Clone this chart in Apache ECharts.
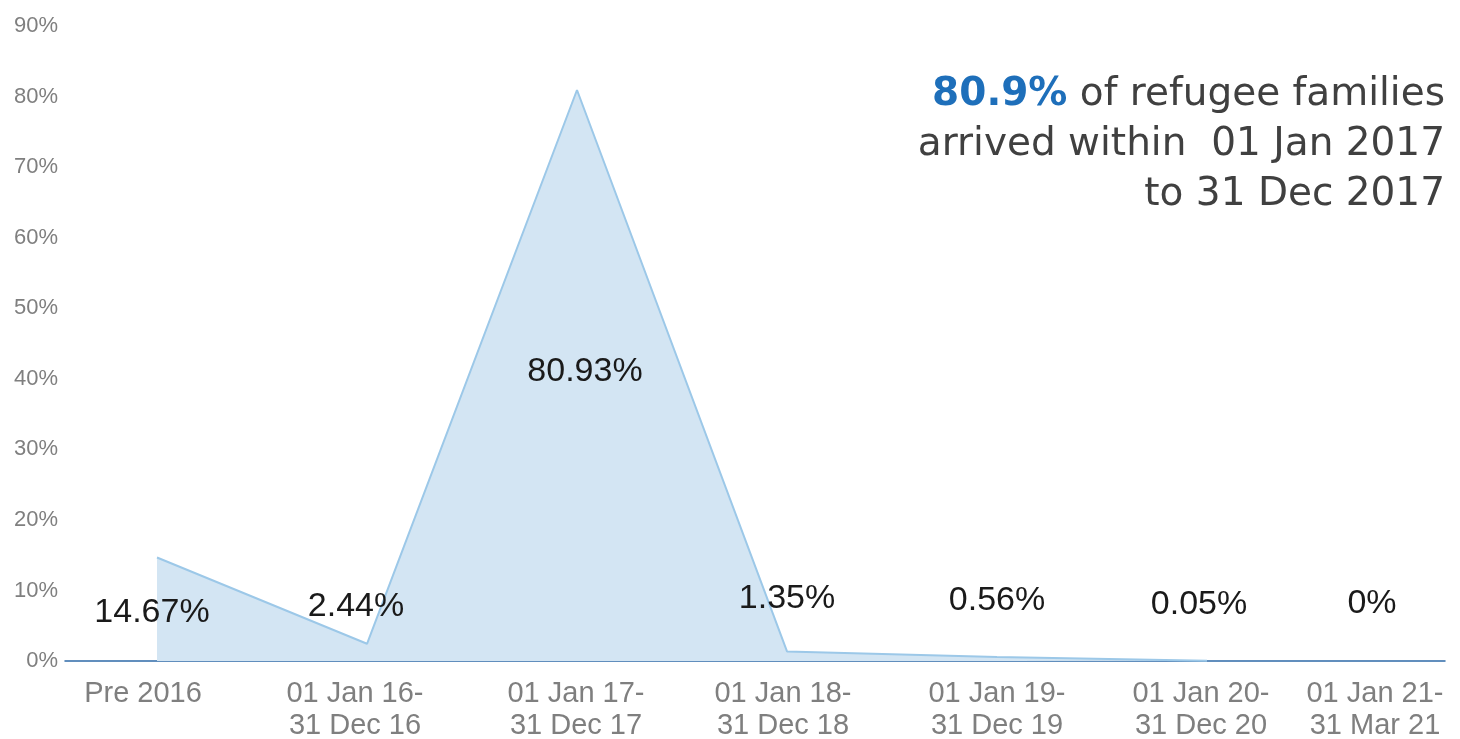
<!DOCTYPE html>
<html><head><meta charset="utf-8">
<script src="https://cdn.jsdelivr.net/npm/echarts@6/dist/echarts.min.js"></script>
<style>html,body{margin:0;padding:0;background:#fff}#c{width:1460px;height:739px}</style>
</head><body><div id="c"></div>
<script>
const categories = ['Pre 2016', '01 Jan 16-\n31 Dec 16', '01 Jan 17-\n31 Dec 17', '01 Jan 18-\n31 Dec 18', '01 Jan 19-\n31 Dec 19', '01 Jan 20-\n31 Dec 20', '01 Jan 21-\n31 Mar 21'];
const values = [14.67, 2.44, 80.93, 1.35, 0.56, 0.05, 0];
const plotted = [14.67, 2.44, 80.93, 1.35, 0.56, 0.05, null];
const yTicks = [0, 10, 20, 30, 40, 50, 60, 70, 80, 90];
const labelOffsets = [[-5, 55], [-11, -37], [8, 282], [0, -53], [0, -56], [-8, -56], [-45, -57]];
const tickShift = [14, 12, 1, 4, 0, 6, 42];

const chart = echarts.init(document.getElementById('c'));
const gridTop = 26, gridBottom = 78;
chart.setOption({
  animation: false,
  title: {
    left: 1445, top: 70, textAlign: 'right', padding: 0,
    text: '{b|80.9%}{t| of refugee families}\n{t|arrived within  01 Jan 2017}\n{t|to 31 Dec 2017}',
    textStyle: {
      align: 'right', fontWeight: 'normal',
      rich: {
        b: { fontFamily: 'DejaVu Sans', fontSize: 39, fontWeight: 'bold', color: '#1E6FBA', lineHeight: 50 },
        t: { fontFamily: 'DejaVu Sans', fontSize: 39, fontWeight: 'normal', color: '#404040', lineHeight: 50 }
      }
    }
  },
  grid: [
    { left: 157, right: 43, top: gridTop, bottom: gridBottom, outerBoundsMode: 'none', containLabel: false },
    { left: 65, right: 15, top: gridTop, bottom: gridBottom, outerBoundsMode: 'none', containLabel: false }
  ],
  xAxis: [
    { type: 'category', gridIndex: 0, boundaryGap: false,
      data: categories.map((c, i) => ({ value: c, textStyle: { padding: [0, tickShift[i] * 2, 0, 0] } })),
      axisLine: { show: false }, axisTick: { show: false },
      axisLabel: { fontFamily: 'Liberation Sans', fontSize: 29, color: '#7f7f7f', lineHeight: 32, margin: 17, interval: 0 } },
    { type: 'category', gridIndex: 1, data: categories, axisLabel: { show: false }, axisTick: { show: false },
      axisLine: { show: true, lineStyle: { color: '#2E6AA8', width: 1.5 } } }
  ],
  yAxis: [
    { type: 'value', gridIndex: 0, min: 0, max: 90, interval: 10, show: false, splitLine: { show: false } },
    { type: 'value', gridIndex: 1, min: 0, max: 90, interval: 10, splitLine: { show: false },
      axisLine: { show: false }, axisTick: { show: false },
      axisLabel: { fontFamily: 'Liberation Sans', fontSize: 22, color: '#7f7f7f', margin: 7, formatter: v => yTicks.includes(v) ? v + '%' : '' } }
  ],
  series: [
    { type: 'line', xAxisIndex: 0, yAxisIndex: 0, data: plotted, symbol: 'none',
      lineStyle: { color: '#9CC8E8', width: 2 },
      areaStyle: { color: '#D3E5F3', opacity: 1 }, z: 2 },
    { type: 'scatter', xAxisIndex: 0, yAxisIndex: 0, symbolSize: 0, z: 5,
      itemStyle: { opacity: 1 },
      data: values.map((v, i) => ({ value: v, label: { offset: labelOffsets[i] } })),
      label: { show: true, position: 'inside', fontFamily: 'Liberation Sans', fontSize: 34, color: '#1a1a1a',
        formatter: p => p.value + '%' } }
  ]
});
</script></body></html>
